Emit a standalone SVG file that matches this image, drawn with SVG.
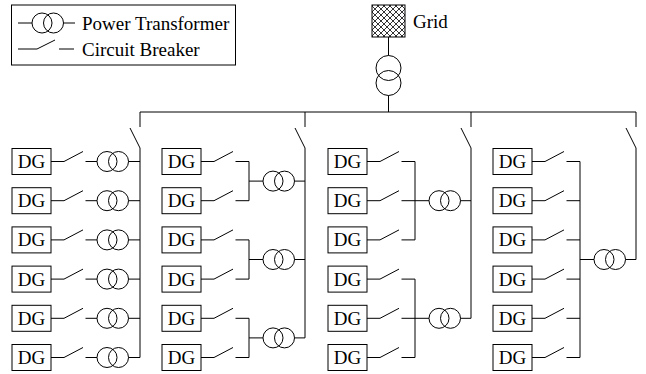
<svg xmlns="http://www.w3.org/2000/svg" width="646" height="374" viewBox="0 0 646 374">
<style>
.ln{stroke:#000;stroke-width:1;fill:none}
.box{fill:#fff;stroke:#000;stroke-width:1}
.tx{fill:none;stroke:#000;stroke-width:1}
.t{font-family:"Liberation Serif","Times New Roman",serif;font-size:19px;fill:#000}
.dg{font-family:"Liberation Serif","Times New Roman",serif;font-size:19px;fill:#000;text-anchor:middle}
</style>
<defs>
<pattern id="hatch" width="6" height="6" patternUnits="userSpaceOnUse">
<path d="M0,0 L6,6 M6,0 L0,6 M-1,5 L1,7 M5,-1 L7,1 M-1,1 L1,-1 M5,7 L7,5" stroke="#000" stroke-width="0.8"/>
</pattern>
<g id="dgbox"><rect class="box" x="0" y="-13" width="39" height="26"/><text class="dg" x="19.5" y="6.5">DG</text></g>
<g id="tr"><circle class="tx" cx="10" cy="0" r="10"/><circle class="tx" cx="21.5" cy="0" r="10"/></g>
</defs>

<g id="legend">
<rect class="box" x="11.5" y="5" width="224" height="60"/>
<line class="ln" x1="18" y1="23" x2="32" y2="23"/>
<circle class="tx" cx="42" cy="23" r="10"/><circle class="tx" cx="53.5" cy="23" r="10"/>
<line class="ln" x1="63.5" y1="23" x2="75" y2="23"/>
<text class="t" x="82" y="29.5">Power Transformer</text>
<line class="ln" x1="18" y1="49" x2="37" y2="49"/>
<line class="ln" x1="37" y1="49" x2="55" y2="40"/>
<line class="ln" x1="59" y1="49" x2="74" y2="49"/>
<text class="t" x="82" y="55.5">Circuit Breaker</text>
</g>

<g id="grid">
<rect x="372" y="5" width="33" height="32" fill="url(#hatch)" stroke="#000" stroke-width="1"/>
<text class="t" x="413" y="28">Grid</text>
</g>
<g id="grid-transformer">
<circle class="tx" cx="388.5" cy="68" r="12.5"/>
<circle class="tx" cx="388.5" cy="83" r="12.5"/>
</g>

<g id="dg-nodes">
<g id="dg-1-1"><use href="#dgbox" x="12" y="161.5"/></g>
<g id="dg-1-2"><use href="#dgbox" x="12" y="200.7"/></g>
<g id="dg-1-3"><use href="#dgbox" x="12" y="239.9"/></g>
<g id="dg-1-4"><use href="#dgbox" x="12" y="279.1"/></g>
<g id="dg-1-5"><use href="#dgbox" x="12" y="318.3"/></g>
<g id="dg-1-6"><use href="#dgbox" x="12" y="357.5"/></g>
<g id="dg-2-1"><use href="#dgbox" x="162" y="161.5"/></g>
<g id="dg-2-2"><use href="#dgbox" x="162" y="200.7"/></g>
<g id="dg-2-3"><use href="#dgbox" x="162" y="239.9"/></g>
<g id="dg-2-4"><use href="#dgbox" x="162" y="279.1"/></g>
<g id="dg-2-5"><use href="#dgbox" x="162" y="318.3"/></g>
<g id="dg-2-6"><use href="#dgbox" x="162" y="357.5"/></g>
<g id="dg-3-1"><use href="#dgbox" x="328" y="161.5"/></g>
<g id="dg-3-2"><use href="#dgbox" x="328" y="200.7"/></g>
<g id="dg-3-3"><use href="#dgbox" x="328" y="239.9"/></g>
<g id="dg-3-4"><use href="#dgbox" x="328" y="279.1"/></g>
<g id="dg-3-5"><use href="#dgbox" x="328" y="318.3"/></g>
<g id="dg-3-6"><use href="#dgbox" x="328" y="357.5"/></g>
<g id="dg-4-1"><use href="#dgbox" x="493" y="161.5"/></g>
<g id="dg-4-2"><use href="#dgbox" x="493" y="200.7"/></g>
<g id="dg-4-3"><use href="#dgbox" x="493" y="239.9"/></g>
<g id="dg-4-4"><use href="#dgbox" x="493" y="279.1"/></g>
<g id="dg-4-5"><use href="#dgbox" x="493" y="318.3"/></g>
<g id="dg-4-6"><use href="#dgbox" x="493" y="357.5"/></g>
</g>

<g id="transformers">
<g id="tr-1-1"><use href="#tr" x="97" y="161.5"/></g>
<g id="tr-1-2"><use href="#tr" x="97" y="200.7"/></g>
<g id="tr-1-3"><use href="#tr" x="97" y="239.9"/></g>
<g id="tr-1-4"><use href="#tr" x="97" y="279.1"/></g>
<g id="tr-1-5"><use href="#tr" x="97" y="318.3"/></g>
<g id="tr-1-6"><use href="#tr" x="97" y="357.5"/></g>
<g id="tr-2-1"><use href="#tr" x="263" y="181.1"/></g>
<g id="tr-2-2"><use href="#tr" x="263" y="259.5"/></g>
<g id="tr-2-3"><use href="#tr" x="263" y="337.9"/></g>
<g id="tr-3-1"><use href="#tr" x="429" y="200.7"/></g>
<g id="tr-3-2"><use href="#tr" x="429" y="318.3"/></g>
<g id="tr-4-1"><use href="#tr" x="594" y="259.5"/></g>
</g>

<g id="connectors" class="ln">
<path d="M388.5,37 V55.5 M388.5,95.5 V112 M140,112 H636"/>
<path d="M140,112 V127 M130,128 L140,148 V357.5"/>
<path d="M305,112 V127 M295,128 L305,148 V337.9"/>
<path d="M471,112 V127 M461,128 L471,148 V318.3"/>
<path d="M636,112 V127 M626,128 L636,148 V259.5"/>
<path d="M51,161.5 H64 L83,151.5 M85.5,161.5 H97 M128.5,161.5 H140"/>
<path d="M51,200.7 H64 L83,190.7 M85.5,200.7 H97 M128.5,200.7 H140"/>
<path d="M51,239.9 H64 L83,229.9 M85.5,239.9 H97 M128.5,239.9 H140"/>
<path d="M51,279.1 H64 L83,269.1 M85.5,279.1 H97 M128.5,279.1 H140"/>
<path d="M51,318.3 H64 L83,308.3 M85.5,318.3 H97 M128.5,318.3 H140"/>
<path d="M51,357.5 H64 L83,347.5 M85.5,357.5 H97 M128.5,357.5 H140"/>
<path d="M201,161.5 H214 L233,151.5 M235.5,161.5 H249 M201,200.7 H214 L233,190.7 M235.5,200.7 H249 M249,161.5 V200.7 M249,181.1 H263 M294.5,181.1 H305"/>
<path d="M201,239.9 H214 L233,229.9 M235.5,239.9 H249 M201,279.1 H214 L233,269.1 M235.5,279.1 H249 M249,239.9 V279.1 M249,259.5 H263 M294.5,259.5 H305"/>
<path d="M201,318.3 H214 L233,308.3 M235.5,318.3 H249 M201,357.5 H214 L233,347.5 M235.5,357.5 H249 M249,318.3 V357.5 M249,337.9 H263 M294.5,337.9 H305"/>
<path d="M367,161.5 H380 L399,151.5 M401.5,161.5 H415 M367,200.7 H380 L399,190.7 M401.5,200.7 H429 M367,239.9 H380 L399,229.9 M401.5,239.9 H415 M415,161.5 V239.9 M460.5,200.7 H471"/>
<path d="M367,279.1 H380 L399,269.1 M401.5,279.1 H415 M367,318.3 H380 L399,308.3 M401.5,318.3 H429 M367,357.5 H380 L399,347.5 M401.5,357.5 H415 M415,279.1 V357.5 M460.5,318.3 H471"/>
<path d="M532,161.5 H545 L564,151.5 M566.5,161.5 H580 M532,200.7 H545 L564,190.7 M566.5,200.7 H580 M532,239.9 H545 L564,229.9 M566.5,239.9 H580 M532,279.1 H545 L564,269.1 M566.5,279.1 H580 M532,318.3 H545 L564,308.3 M566.5,318.3 H580 M532,357.5 H545 L564,347.5 M566.5,357.5 H580 M580,161.5 V357.5 M580,259.5 H594 M625.5,259.5 H636"/>
</g>
</svg>
